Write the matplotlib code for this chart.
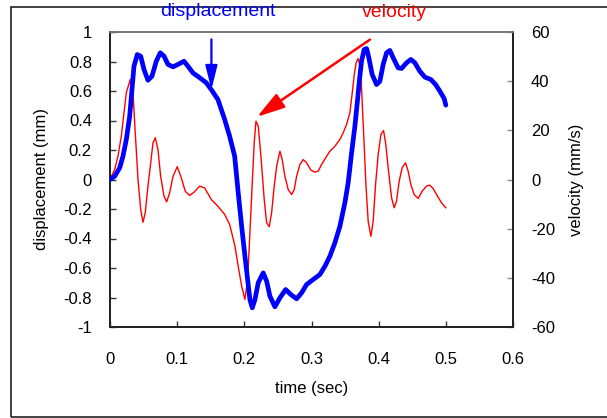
import numpy as np
from matplotlib import pyplot as plt
from matplotlib.patches import Rectangle

plt.rcParams['font.family'] = ['Liberation Sans', 'DejaVu Sans']
plt.rcParams['axes.unicode_minus'] = False

# displacement (mm) vs time (sec)
t_disp = [0.0, 0.007, 0.0144, 0.0193, 0.0243, 0.0293, 0.0327, 0.0357, 0.0406, 0.0457,
          0.0506, 0.0565, 0.0625, 0.0689, 0.0749, 0.0804, 0.0863, 0.0938, 0.1012, 0.1101,
          0.1161, 0.1235, 0.1335, 0.1433, 0.1507, 0.1607, 0.1707, 0.1781, 0.1856, 0.1909,
          0.196, 0.2009, 0.2049, 0.2083, 0.2118, 0.2158, 0.2207, 0.2281, 0.2332, 0.2381,
          0.2455, 0.253, 0.2615, 0.2693, 0.2778, 0.2853, 0.2927, 0.3025, 0.3125, 0.32,
          0.3274, 0.3348, 0.3423, 0.3497, 0.3546, 0.3597, 0.3646, 0.3686, 0.3715, 0.3745,
          0.3784, 0.382, 0.3854, 0.3903, 0.3969, 0.4018, 0.4067, 0.4118, 0.4167, 0.4216,
          0.429, 0.4341, 0.4415, 0.4479, 0.4539, 0.4613, 0.4688, 0.4777, 0.4847, 0.4911,
          0.4975, 0.5]
disp = [0.0, 0.022, 0.079, 0.158, 0.271, 0.429, 0.610, 0.768, 0.847, 0.836,
        0.746, 0.673, 0.700, 0.802, 0.859, 0.836, 0.780, 0.764, 0.780, 0.802,
        0.768, 0.723, 0.690, 0.656, 0.610, 0.542, 0.407, 0.294, 0.158, -0.090,
        -0.317, -0.520, -0.678, -0.814, -0.870, -0.814, -0.700, -0.633, -0.689, -0.791,
        -0.863, -0.802, -0.746, -0.780, -0.809, -0.768, -0.712, -0.678, -0.644, -0.588,
        -0.520, -0.429, -0.317, -0.158, -0.022, 0.181, 0.361, 0.542, 0.68, 0.802,
        0.881, 0.888, 0.825, 0.712, 0.644, 0.666, 0.780, 0.859, 0.875, 0.825,
        0.757, 0.753, 0.791, 0.814, 0.791, 0.734, 0.694, 0.678, 0.644, 0.599,
        0.549, 0.504]

# velocity (mm/s) vs time (sec)
t_vel = [0.0, 0.007, 0.0119, 0.0168, 0.0208, 0.0243, 0.0302, 0.0342, 0.0376, 0.0417,
         0.0457, 0.0491, 0.0525, 0.0565, 0.0606, 0.064, 0.0674, 0.0714, 0.0754, 0.0804,
         0.0844, 0.0888, 0.0938, 0.1001, 0.1061, 0.1121, 0.1186, 0.125, 0.1335, 0.1409,
         0.1507, 0.1607, 0.1707, 0.1781, 0.1815, 0.186, 0.1909, 0.196, 0.2009, 0.2049,
         0.2083, 0.2118, 0.2147, 0.2173, 0.2207, 0.2247, 0.2296, 0.2332, 0.2371, 0.2406,
         0.2445, 0.2481, 0.253, 0.2564, 0.2604, 0.2653, 0.2704, 0.2743, 0.2778, 0.2827,
         0.2877, 0.2927, 0.2991, 0.305, 0.31, 0.315, 0.321, 0.3274, 0.3348, 0.3423,
         0.3472, 0.3522, 0.3571, 0.3606, 0.3636, 0.3665, 0.3695, 0.3731, 0.3754, 0.3784,
         0.381, 0.3844, 0.3884, 0.3918, 0.3954, 0.3993, 0.4033, 0.4073, 0.4107, 0.4141,
         0.4192, 0.4231, 0.4266, 0.4305, 0.435, 0.44, 0.4439, 0.4479, 0.4528, 0.4588,
         0.4647, 0.4713, 0.4762, 0.4811, 0.4877, 0.4936, 0.5]
vel = [0.0, 4.1, 9.5, 17.6, 27.1, 35.3, 40.7, 35.3, 19.0, 0.0,
       -12.2, -17.4, -13.5, -2.7, 6.8, 14.9, 17.0, 12.2, 1.3, -6.8,
       -9.1, -5.4, 1.3, 5.2, 0.7, -4.8, -6.5, -5.2, -2.7, -3.4,
       -8.1, -10.9, -14.2, -18.3, -22.0, -27.1, -35.3, -43.4, -48.8, -40.7,
       -21.7, -1.3, 14.9, 23.7, 21.7, 9.5, -8.1, -17.6, -19.2, -13.5,
       -2.7, 5.4, 11.5, 8.1, 1.3, -4.1, -6.1, -4.1, 1.3, 6.1,
       8.1, 6.8, 3.8, 3.0, 3.4, 6.1, 8.8, 11.5, 13.5, 16.3,
       19.0, 22.4, 27.1, 35.0, 42.5, 47.5, 49.2, 45.4, 31.8, 14.2,
       -2.0, -17.0, -23.1, -17.0, -2.0, 10.2, 18.3, 19.9, 14.2, 4.8,
       -7.4, -11.5, -8.8, -0.7, 4.8, 6.8, 3.4, -2.0, -6.1, -7.7,
       -4.8, -2.7, -2.3, -3.7, -6.8, -9.5, -11.5]

x_ticks = [0, 0.1, 0.2, 0.3, 0.4, 0.5, 0.6]
x_labels = ['0', '0.1', '0.2', '0.3', '0.4', '0.5', '0.6']
disp_ticks = [1, 0.8, 0.6, 0.4, 0.2, 0, -0.2, -0.4, -0.6, -0.8, -1]
disp_labels = ['1', '0.8', '0.6', '0.4', '0.2', '0', '-0.2', '-0.4', '-0.6', '-0.8', '-1']
vel_ticks = [60, 40, 20, 0, -20, -40, -60]

W, H = 607, 418
fig = plt.figure(figsize=(W / 100, H / 100), dpi=100)
ax = fig.add_axes([110 / W, (H - 327) / H, (513 - 110) / W, (327 - 32) / H])
ax2 = ax.twinx()

ax.plot(t_disp, disp, color='#0000ff', lw=3.4, solid_joinstyle='round',
        solid_capstyle='round', zorder=3)
ax2.plot(t_vel, vel, color='#ff0000', lw=1.0, zorder=2)
ax.set_zorder(2)
ax.patch.set_visible(False)

ax.set_xlim(0, 0.6)
ax.set_ylim(-1, 1)
ax2.set_ylim(-60, 60)
ax.set_xticks(x_ticks)
ax.set_xticklabels(x_labels)
ax.set_yticks(disp_ticks)
ax.set_yticklabels(disp_labels)
ax2.set_yticks(vel_ticks)

ax.tick_params(axis='both', direction='in', length=4, width=1, labelsize=12, color='#333333')
ax.tick_params(axis='x', pad=18)
ax.tick_params(axis='y', pad=13)
ax2.tick_params(axis='y', direction='in', length=4, width=1, labelsize=12, pad=13, color='#888888')

for a in (ax, ax2):
    for side in ('left', 'bottom', 'right'):
        a.spines[side].set_color('#222222')
        a.spines[side].set_linewidth(1.3)
    a.spines['top'].set_color('#777777')
    a.spines['top'].set_linewidth(1.3)

ax.set_xlabel('time (sec)', fontsize=12, labelpad=10)
ax.set_ylabel('displacement (mm)', fontsize=12, labelpad=10)
ax2.set_ylabel('velocity (mm/s)', fontsize=12, labelpad=10)

# labels and arrows
ax.text(0.161, 1.14, 'displacement', color='#0000ff', fontsize=14, ha='center', va='center')
ax.text(0.424, 1.13, 'velocity', color='#ff0000', fontsize=14, ha='center', va='center')
ax.annotate('', xy=(0.151, 0.61), xytext=(0.151, 0.95),
            arrowprops=dict(arrowstyle='-|>,head_length=0.8,head_width=0.2',
                            color='#0000ff', lw=1.6, mutation_scale=18,
                            shrinkA=0, shrinkB=0))
ax2.annotate('', xy=(0.219, 25.5), xytext=(0.387, 56.9),
             arrowprops=dict(arrowstyle='-|>,head_length=0.85,head_width=0.25',
                             color='#ff0000', lw=1.8, mutation_scale=20,
                             shrinkA=0, shrinkB=0))

# outer frame
fig.patches.append(Rectangle((11 / W, 1 / H), 1.0, 410 / H, transform=fig.transFigure,
                             fill=False, edgecolor='#222222', lw=1.2))

fig.savefig('out.png', dpi=100)
